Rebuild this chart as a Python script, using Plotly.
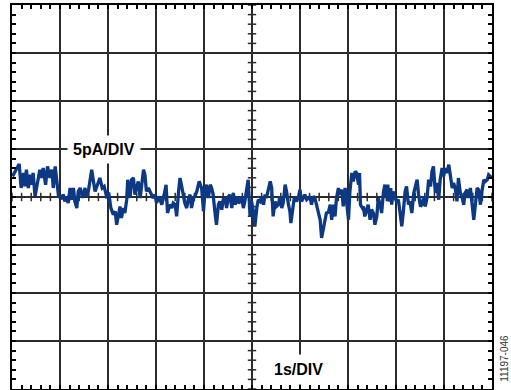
"""Current noise scope capture: 5pA/DIV vertical, 1s/DIV horizontal."""

import numpy as np
import plotly.graph_objects as go

TRACE_COLOR = "#0d3984"
GRID_COLOR = "#2b2b2b"
FONT = "Liberation Sans, Arial, sans-serif"

TIME_S = [
    0.01, 0.15, 0.19, 0.24, 0.27, 0.30, 0.34, 0.38, 0.41, 0.44, 0.48, 0.53, 0.58, 0.62,
    0.65, 0.70, 0.74, 0.79, 0.83, 0.86, 0.90, 0.97, 1.03, 1.07, 1.10, 1.14, 1.17, 1.21,
    1.24, 1.28, 1.31, 1.35, 1.38, 1.42, 1.47, 1.52, 1.55, 1.59, 1.63, 1.66, 1.73, 1.78,
    1.83, 1.88, 1.92, 1.97, 2.02, 2.06, 2.11, 2.15, 2.18, 2.22, 2.25, 2.28, 2.32, 2.35,
    2.39, 2.41, 2.46, 2.49, 2.53, 2.56, 2.60, 2.63, 2.67, 2.70, 2.74, 2.77, 2.80, 2.84,
    2.88, 2.94, 2.98, 3.01, 3.06, 3.12, 3.17, 3.21, 3.24, 3.29, 3.33, 3.36, 3.40, 3.43,
    3.47, 3.50, 3.53, 3.57, 3.60, 3.64, 3.67, 3.71, 3.74, 3.78, 3.81, 3.85, 3.90, 3.95,
    3.99, 4.02, 4.05, 4.09, 4.13, 4.16, 4.19, 4.23, 4.26, 4.30, 4.33, 4.37, 4.40, 4.44,
    4.47, 4.51, 4.54, 4.58, 4.61, 4.65, 4.68, 4.72, 4.75, 4.78, 4.82, 4.85, 4.89, 4.92,
    4.96, 4.99, 5.03, 5.06, 5.10, 5.13, 5.17, 5.20, 5.24, 5.27, 5.30, 5.34, 5.38, 5.41,
    5.44, 5.48, 5.51, 5.55, 5.58, 5.62, 5.65, 5.69, 5.72, 5.76, 5.79, 5.81, 5.85, 5.88,
    5.93, 5.97, 6.00, 6.03, 6.07, 6.10, 6.14, 6.17, 6.21, 6.24, 6.28, 6.31, 6.35, 6.38,
    6.42, 6.45, 6.49, 6.52, 6.55, 6.59, 6.63, 6.66, 6.69, 6.73, 6.76, 6.80, 6.83, 6.87,
    6.90, 6.94, 6.97, 7.01, 7.04, 7.08, 7.11, 7.15, 7.18, 7.22, 7.24, 7.26, 7.30, 7.32,
    7.35, 7.39, 7.42, 7.46, 7.49, 7.53, 7.56, 7.60, 7.63, 7.67, 7.70, 7.74, 7.77, 7.80,
    7.83, 7.85, 7.89, 7.91, 7.94, 7.98, 8.01, 8.05, 8.08, 8.12, 8.15, 8.19, 8.22, 8.26,
    8.29, 8.33, 8.37, 8.40, 8.44, 8.47, 8.51, 8.54, 8.58, 8.61, 8.65, 8.68, 8.72, 8.75,
    8.78, 8.82, 8.85, 8.89, 8.92, 8.96, 8.99, 9.03, 9.06, 9.10, 9.13, 9.17, 9.20, 9.24,
    9.27, 9.30, 9.34, 9.38, 9.41, 9.44, 9.48, 9.51, 9.55, 9.58, 9.62, 9.65, 9.69, 9.72,
    9.76, 9.79, 9.83, 9.86, 9.90, 9.93, 9.97, 10.00,
]
CURRENT_PA = [
    2.15, 3.44, 0.94, 2.50, 1.10, 2.84, 0.94, 2.32, 1.28, 2.50, 0.06, 1.28, 2.84, 1.98,
    3.02, 1.28, 3.19, 1.98, 2.84, 0.94, 3.19, 0.06, -0.10, 0.24, -0.46, 0.06, -0.63, 0.94,
    -0.28, 0.94, -0.46, -1.15, 0.58, 0.94, -0.10, 0.94, 0.06, 0.58, 1.63, 2.84, 0.58, 1.28,
    1.98, 0.94, 1.10, 0.06, 0.24, -1.15, -1.84, -1.50, -2.89, -1.84, -0.98, -2.19, -1.15, -1.67,
    -0.28, 1.80, -0.10, 1.80, 1.98, 0.24, 1.10, 1.63, -0.10, 1.10, 2.84, 2.32, 0.58, 0.94,
    0.58, -0.10, 0.24, -0.63, 0.06, -0.80, 0.24, 1.28, -1.67, -0.80, -1.15, -0.63, -0.80, -2.02,
    0.58, 1.98, 1.28, -0.10, -0.63, -1.15, -0.28, 0.24, -1.15, -0.10, 0.06, 0.58, 1.63, 0.94,
    -1.50, 0.58, 1.28, -0.10, 1.28, 0.94, 0.24, -1.67, -2.89, -0.80, -0.46, -1.32, -0.28, -0.10,
    -1.15, 0.06, 0.24, -1.15, 0.42, -0.80, 0.06, -0.63, -0.46, 0.06, -1.15, -0.46, 1.10, 1.80,
    -2.02, -0.46, -1.50, -3.06, -1.15, -0.28, -0.46, 0.06, -0.80, 0.24, -0.10, 0.94, 1.63, 0.94,
    -2.02, -0.46, -0.98, -0.80, 0.06, -1.15, -0.63, 1.28, 0.58, -0.80, -1.50, -2.71, -0.80, -0.10,
    -0.46, 0.06, 0.76, -0.46, -0.10, 0.24, -0.28, -0.10, 0.06, -0.80, 0.06, -0.10, -0.98, -1.32,
    -2.37, -4.27, -3.06, -2.37, -1.67, -1.60, -0.80, -2.37, -0.80, -2.02, -0.10, 0.94, 0.24, 0.76,
    -0.98, 0.94, -0.28, -2.37, 0.58, 2.50, 1.63, 2.67, 2.50, 1.28, 2.50, -0.80, -1.15, -0.98,
    -2.02, -1.15, -0.80, -2.37, -1.32, -1.67, -2.89, -2.02, -0.10, -0.80, -1.67, 0.58, 1.28, -0.10,
    1.28, -0.46, 0.94, -0.80, 0.58, -0.10, -0.46, -0.28, -1.32, -3.06, -1.67, 0.58, 1.10, -0.80,
    -0.46, -1.67, 0.42, 1.10, 1.80, 0.24, -0.98, -0.80, 0.06, -0.98, 0.06, 1.80, 1.10, 2.67,
    3.19, 0.42, 1.46, -0.28, 1.80, 3.02, 2.15, 3.02, 2.50, 3.37, 2.15, 0.94, 1.46, 0.76,
    -0.46, 1.98, 0.42, -0.10, -0.80, 0.42, 0.76, -0.10, 0.94, -0.80, -2.37, -0.98, 0.94, 0.76,
    -0.80, 0.58, 1.80, 1.63, 1.80, 2.32, 2.15, 1.98,
]

X_RANGE = [0, 10]      # 10 divisions at 1 s/DIV
Y_RANGE = [-20, 20]    # 8 divisions at 5 pA/DIV

fig = go.Figure()

# minor ticks crossing the centre graticule lines (5 per division)
cx = np.arange(0, 10.001, 0.2)
cy = np.arange(-20, 20.001, 1.0)
fig.add_trace(go.Scatter(
    x=cx, y=np.zeros_like(cx), mode="markers", hoverinfo="skip",
    marker=dict(symbol="line-ns", size=6, line=dict(width=1.5, color=GRID_COLOR)),
))
fig.add_trace(go.Scatter(
    x=np.full_like(cy, 5.0), y=cy, mode="markers", hoverinfo="skip",
    marker=dict(symbol="line-ew", size=6, line=dict(width=1.5, color=GRID_COLOR)),
))

fig.add_trace(go.Scatter(
    x=TIME_S, y=CURRENT_PA, mode="lines", hoverinfo="skip",
    line=dict(color=TRACE_COLOR, width=3.3),
))

_AXIS = dict(
    showgrid=True, gridcolor=GRID_COLOR, gridwidth=1.5, zeroline=False,
    showticklabels=False, showline=True, linecolor="black", linewidth=2,
    mirror="allticks", ticks="inside", ticklen=4, tickwidth=1.5, tickcolor="black",
    fixedrange=True,
)

fig.update_layout(
    width=511, height=390,
    margin=dict(l=12, r=19, t=5, b=1),
    paper_bgcolor="white", plot_bgcolor="white",
    showlegend=False,
    font=dict(family=FONT, color="black"),
    xaxis=dict(**_AXIS, range=X_RANGE, dtick=1,
               minor=dict(dtick=0.2, ticks="inside", ticklen=4, tickwidth=1.5,
                          tickcolor="black", showgrid=False)),
    yaxis=dict(**_AXIS, range=Y_RANGE, dtick=5,
               minor=dict(dtick=1, ticks="inside", ticklen=4, tickwidth=1.5,
                          tickcolor="black", showgrid=False)),
)

label_font = dict(family=FONT, size=16, color="black", weight="bold")
fig.add_annotation(x=1.92, y=5, text="5pA/DIV", showarrow=False, font=label_font,
                   bgcolor="white", borderpad=5)
fig.add_annotation(x=5.96, y=-18, text="1s/DIV", showarrow=False, font=label_font,
                   bgcolor="white", borderpad=6)
fig.add_annotation(xref="paper", yref="paper", x=1.026, y=0.08, text="11197-046",
                   showarrow=False, textangle=-90, xanchor="center", yanchor="middle",
                   font=dict(family=FONT, size=10, color="#333333"))

# the page body has an 8px default margin; drop it so the figure sits at the origin
fig.write_html("out.html", config={"displayModeBar": False},
               post_script="document.body.style.margin='0';")
